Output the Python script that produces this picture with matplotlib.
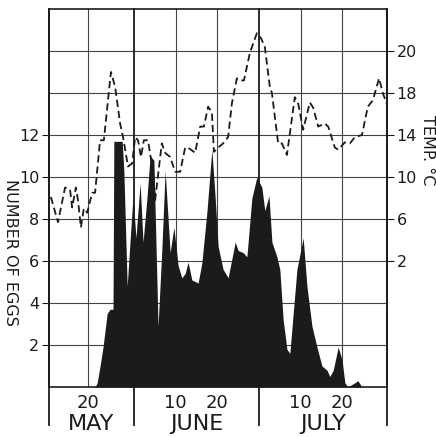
import numpy as np
import matplotlib
matplotlib.use("Agg")
import matplotlib.pyplot as plt
import matplotlib.transforms as mtransforms

# dny pocitane od 1. kvetna (1 = 1. kveten)
temp_day = [11.1, 12.8, 14.5, 15.7, 16.2, 17.1, 17.6, 18.3, 19.0, 19.8,
            21.0, 21.7, 22.9, 23.8, 25.5, 26.5, 27.7, 28.4, 29.6, 30.6,
            31.3, 32.0, 32.7, 33.4, 34.4, 35.6, 36.1, 37.7, 38.5, 39.7,
            40.9, 42.1, 43.3, 44.0, 45.7, 46.9, 47.8, 48.8, 49.7, 50.2,
            51.2, 52.4, 53.6, 54.5, 55.7, 56.7, 57.4, 58.8, 60.5, 61.5,
            62.4, 63.6, 64.1, 65.6, 66.5, 67.7, 69.6, 70.4, 71.6, 73.2,
            74.0, 75.2, 76.8, 77.6, 79.2, 80.0, 81.6, 82.8, 84.0, 85.7,
            87.1, 88.3, 89.8, 90.7, 91.7]
temp_c = [8.1, 5.7, 9.0, 8.8, 7.1, 9.0, 7.8, 5.2, 7.0, 6.6,
          8.5, 8.5, 13.5, 13.5, 20.0, 18.6, 15.1, 13.8, 11.0, 11.3,
          13.8, 13.5, 11.9, 13.5, 13.5, 10.4, 7.8, 13.2, 12.3, 11.9,
          10.5, 10.5, 12.8, 12.8, 12.3, 14.8, 14.8, 16.7, 16.2, 12.4,
          12.8, 13.2, 13.8, 17.0, 19.4, 19.2, 19.2, 21.8, 23.7, 23.2,
          22.4, 18.6, 18.0, 13.2, 13.2, 12.1, 17.6, 17.0, 14.5, 17.1,
          16.6, 14.8, 15.1, 14.8, 12.8, 12.6, 13.3, 13.2, 13.8, 14.0,
          16.7, 17.3, 19.4, 18.0, 16.9]

egg_day = [21.7, 22.2, 22.9, 23.6, 24.6, 25.3, 26.0, 26.2, 28.2, 28.6,
           29.4, 30.1, 30.8, 31.5, 32.5, 33.2, 34.1, 34.9, 35.8, 36.8,
           37.7, 38.5, 39.7, 40.6, 41.6, 42.5, 43.3, 44.0, 44.9, 46.4,
           47.3, 48.5, 49.7, 50.5, 51.2, 52.4, 53.6, 55.3, 56.0, 57.2,
           58.1, 59.3, 60.5, 61.7, 62.4, 63.4, 64.1, 65.3, 66.0, 66.8,
           67.7, 68.4, 70.1, 71.6, 72.5, 73.7, 74.9, 76.1, 77.3, 78.0,
           78.8, 80.0, 80.9, 81.6, 82.3, 84.0, 84.7, 85.7]
egg_count = [0, 0.2, 1.0, 1.9, 3.5, 3.7, 3.7, 11.7, 11.7, 10.3,
             4.8, 7.0, 9.1, 7.1, 9.7, 6.9, 8.9, 11.0, 10.8, 2.9,
             6.5, 10.3, 6.4, 7.6, 5.8, 5.2, 5.4, 5.95, 5.1, 4.95,
             5.9, 8.3, 11.3, 9.0, 6.7, 5.6, 5.2, 6.9, 6.5, 6.4,
             6.2, 9.0, 10.0, 9.5, 8.4, 9.1, 6.9, 6.2, 5.6, 3.2,
             1.8, 1.6, 5.6, 7.1, 4.8, 2.9, 1.9, 1.0, 0.8, 0.5,
             0.8, 1.9, 1.3, 0.2, 0, 0.2, 0.3, 0]

day_ticks = [20, 41, 51, 71, 81]
day_labels = ["20", "10", "20", "10", "20"]
month_edges = [31, 61]
months = ["MAY", "JUNE", "JULY"]
x_start, x_end = 10.65, 91.7

egg_ticks = [2, 4, 6, 8, 10, 12]
temp_ticks = [2, 6, 10, 14, 18, 22]
temp_labels = ["2", "6", "10", "14", "18", "20"]

ink = "#1b1b1b"
plt.rcParams["font.family"] = "DejaVu Sans"

fig = plt.figure(figsize=(4.36, 4.37), dpi=100)
ax = fig.add_axes([49 / 436, 1 - 387 / 437, 338 / 436, 378 / 437])

# mrizka
for y in range(2, 18, 2):
    ax.axhline(y, color="#444444", lw=0.8, zorder=0)
for d in day_ticks:
    ax.axvline(d, color="#444444", lw=0.8, zorder=0)

ax.fill_between(egg_day, egg_count, color=ink, lw=0, zorder=2)

ax.set_xlim(x_start, x_end)
ax.set_ylim(0, 18)
ax.set_yticks(egg_ticks)
ax.tick_params(axis="y", direction="out", length=5, width=0.8, pad=2,
               labelsize=11.5, colors=ink)
ax.set_xticks(day_ticks)
ax.set_xticklabels(day_labels)
ax.tick_params(axis="x", length=0, pad=5, labelsize=13, colors=ink)
for s in ax.spines.values():
    s.set_color(ink)
    s.set_linewidth(1.2)

# hranice mesicu, pretahuji pod osu
for x in [x_start] + month_edges + [x_end]:
    ax.axvline(x, ymin=-0.1, ymax=1, color=ink, lw=1.3, clip_on=False, zorder=3)

trans = mtransforms.blended_transform_factory(ax.transData, ax.transAxes)
bounds = [x_start] + month_edges + [x_end]
for i, m in enumerate(months):
    ax.text((bounds[i] + bounds[i + 1]) / 2, -0.098, m, transform=trans,
            ha="center", va="center", fontsize=16, color=ink)

# teplota na prave ose
ax2 = ax.twinx()
ax2.plot(temp_day, temp_c, color=ink, lw=1.3, linestyle=(0, (4, 2.2)), zorder=3)
ax2.set_ylim(-10, 26)
ax2.set_yticks(temp_ticks)
ax2.set_yticklabels(temp_labels)
ax2.tick_params(axis="y", direction="out", length=5, width=0.8, pad=2,
                labelsize=11.5, colors=ink)
for s in ax2.spines.values():
    s.set_visible(False)

# popisky os
fig.text(10 / 436, 1 - 252 / 437, "NUMBER OF EGGS", rotation=270, fontsize=11.5,
         color=ink, ha="center", va="center")
fig.text(427 / 436, 1 - 150 / 437, "TEMP. °C", rotation=270, fontsize=11.5,
         color=ink, ha="center", va="center")

fig.savefig("out.png", dpi=100)
